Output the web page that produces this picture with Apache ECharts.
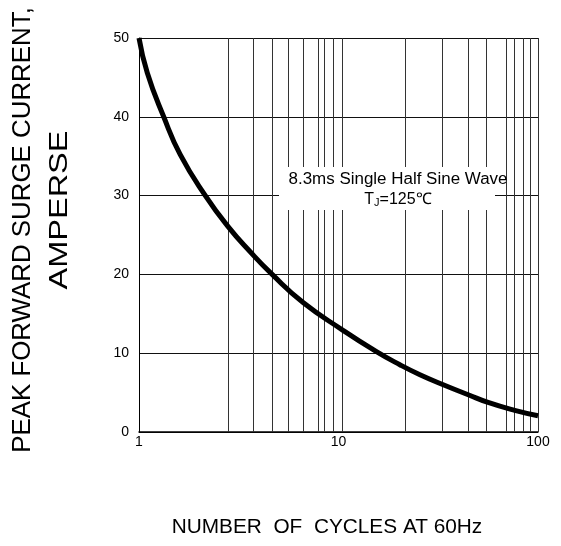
<!DOCTYPE html>
<html>
<head>
<meta charset="utf-8">
<script src="https://cdn.jsdelivr.net/npm/echarts@6/dist/echarts.min.js"></script>
<style>
  html, body { margin: 0; padding: 0; background: #fff; }
  #chart { width: 561px; height: 546px; }
</style>
</head>
<body>
<div id="chart"></div>
<script>
const FONT = '"Liberation Sans", Arial, sans-serif';

// curve
const cycles = [1, 1.1, 1.33, 1.61, 2.15, 2.81, 3.6, 4.65, 6.67, 10.4, 15.5, 20.3, 25.6, 33.5, 44.7, 56.2, 76.4, 100];
const current = [50, 45.6, 40, 35.2, 30, 26.0, 22.9, 20, 16.4, 13.0, 10.2, 8.54, 7.27, 6.0, 4.73, 3.75, 2.75, 2.07];

// vertical grid lines as drawn in the reference (not quite standard log positions)
const gridCycles = [2.79, 3.72, 4.66, 5.61, 6.66, 7.9, 8.53, 9.42, 10.4, 21.7, 33.2, 44.5, 55.2, 69.5, 76.4, 84.1, 91.9, 100];

const yTicks = [0, 10, 20, 30, 40, 50];

const chart = echarts.init(document.getElementById('chart'), null, { renderer: 'canvas' });

const option = {
  backgroundColor: '#fff',
  animation: false,
  grid: { left: 139, right: 23, top: 38, bottom: 114 },
  xAxis: {
    type: 'log',
    logBase: 10,
    min: 1,
    max: 100,
    axisLine: { show: true, lineStyle: { color: '#000', width: 1.5 } },
    axisTick: { show: false },
    splitLine: { show: false },
    axisLabel: { fontFamily: FONT, fontSize: 14, color: '#000', margin: 3 }
  },
  yAxis: {
    type: 'value',
    min: yTicks[0],
    max: yTicks[yTicks.length - 1],
    interval: 10,
    axisLine: { show: true, lineStyle: { color: '#000', width: 1 } },
    axisTick: { show: false },
    splitLine: { show: true, lineStyle: { color: '#111', width: 1 } },
    axisLabel: { fontFamily: FONT, fontSize: 14, color: '#000', margin: 10 }
  },
  series: [
    {
      type: 'line',
      data: cycles.map((c, i) => [c, current[i]]),
      smooth: 0.5,
      symbol: 'none',
      lineStyle: { color: '#000', width: 5 },
      z: 5,
      markLine: {
        silent: true,
        symbol: 'none',
        label: { show: false },
        lineStyle: { color: '#333', width: 1, type: 'solid' },
        data: gridCycles.map(v => ({ xAxis: v }))
      }
    }
  ],
  graphic: [
    {
      type: 'rect',
      z: 100,
      shape: { x: 279, y: 167, width: 216, height: 43 },
      style: { fill: '#fff' }
    },
    {
      type: 'text',
      z: 101,
      x: 398,
      y: 180,
      style: {
        text: '8.3ms Single Half Sine Wave',
        font: '16px ' + FONT,
        fill: '#000',
        align: 'center',
        verticalAlign: 'middle'
      },
      scaleX: 1.06
    },
    {
      type: 'text',
      z: 101,
      x: 398,
      y: 200,
      style: {
        text: '{t|T}{j|J}{t|=125℃}',
        fill: '#000',
        align: 'center',
        verticalAlign: 'middle',
        rich: {
          t: { fontFamily: FONT, fontSize: 16, fill: '#000' },
          j: { fontFamily: FONT, fontSize: 11, fill: '#000', verticalAlign: 'bottom' }
        }
      }
    },
    {
      type: 'text',
      x: 23,
      y: 230,
      rotation: Math.PI / 2,
      scaleX: 1.035,
      style: {
        text: 'PEAK FORWARD SURGE CURRENT,',
        font: '25px ' + FONT,
        fill: '#000',
        align: 'center',
        verticalAlign: 'middle'
      }
    },
    {
      type: 'text',
      x: 60,
      y: 210,
      rotation: Math.PI / 2,
      scaleX: 1.3,
      style: {
        text: 'AMPERSE',
        font: '25px ' + FONT,
        fill: '#000',
        align: 'center',
        verticalAlign: 'middle'
      }
    },
    {
      type: 'text',
      x: 327,
      y: 527,
      scaleX: 1.04,
      style: {
        text: 'NUMBER  OF  CYCLES AT 60Hz',
        font: '20px ' + FONT,
        fill: '#000',
        align: 'center',
        verticalAlign: 'middle'
      }
    }
  ]
};

chart.setOption(option);
</script>
</body>
</html>
